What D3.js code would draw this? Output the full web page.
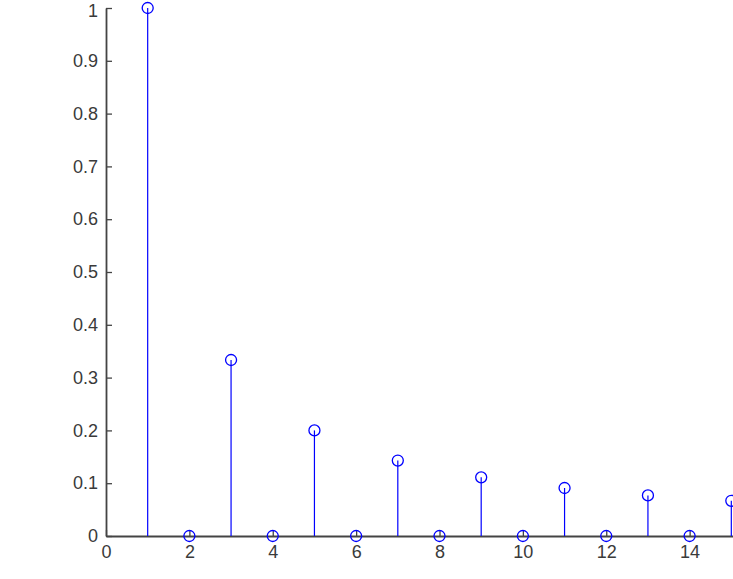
<!DOCTYPE html>
<html><head><meta charset="utf-8">
<script src="https://cdn.jsdelivr.net/npm/d3@7"></script>
<style>body{margin:0;background:#fff}svg{display:block}</style>
</head><body>
<script>
const nValues = [1,2,3,4,5,6,7,8,9,10,11,12,13,14,15];
const stemValues = [1,0,0.3333,0,0.2,0,0.1429,0,0.1111,0,0.0909,0,0.0769,0,0.0667];
const xTicks = [0,2,4,6,8,10,12,14];
const yTicks = [0,0.1,0.2,0.3,0.4,0.5,0.6,0.7,0.8,0.9,1];

const W = 733, H = 579;
const svg = d3.select("body").append("svg").attr("width", W).attr("height", H);
const x = d3.scaleLinear().domain([0,16]).range([106, 773]);
const y = d3.scaleLinear().domain([0,1]).range([536, 8]);

const font = "Arial, 'Liberation Sans', sans-serif";
const axisColor = "#444";

const yAxis = d3.axisLeft(y).tickValues(yTicks).tickSizeInner(-6).tickSizeOuter(0).tickPadding(8)
  .tickFormat(d => d3.format("")(+d.toFixed(1)));
const gy = svg.append("g").attr("transform", `translate(${x(0)},0)`).call(yAxis);

const xAxis = d3.axisBottom(x).tickValues(xTicks).tickSizeInner(-6).tickSizeOuter(0).tickPadding(9);
const gx = svg.append("g").attr("transform", `translate(0,${y(0)})`).call(xAxis);

[gy, gx].forEach(g => {
  g.select(".domain").attr("stroke", axisColor).attr("stroke-width", 1.8);
  g.selectAll(".tick line").attr("stroke", axisColor).attr("stroke-width", 1.3);
  g.selectAll(".tick text").attr("fill", "#3a3a3a").style("font-family", font).style("font-size", "18px");
});
// keep the top label fully inside the picture
gy.selectAll(".tick text").filter(d => d === 1).attr("y", 2.5);

const stems = svg.append("g");
stems.selectAll("line").data(nValues).join("line")
  .attr("x1", (d) => x(d)).attr("x2", (d) => x(d))
  .attr("y1", y(0)).attr("y2", (d,i) => y(stemValues[i]))
  .attr("stroke", "#0000ff").attr("stroke-width", 1.2);
stems.selectAll("circle").data(nValues).join("circle")
  .attr("cx", (d) => x(d)).attr("cy", (d,i) => y(stemValues[i])).attr("r", 5.5)
  .attr("fill", "none").attr("stroke", "#0000ff").attr("stroke-width", 1.3);
</script>
</body></html>
